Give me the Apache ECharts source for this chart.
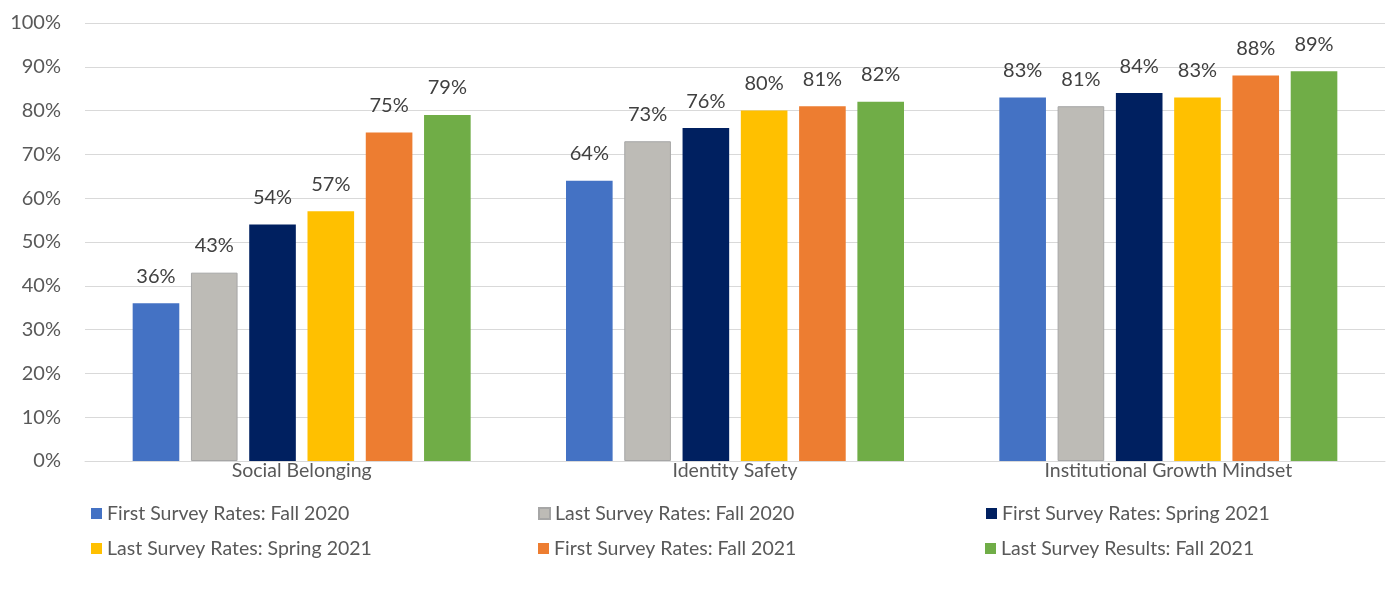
<!DOCTYPE html>
<html>
<head>
<meta charset="utf-8">
<script src="https://cdn.jsdelivr.net/npm/echarts@6/dist/echarts.min.js"></script>
<style>html,body{margin:0;padding:0;background:#fff}#c{width:1392px;height:594px}</style>
</head>
<body>
<div id="c"></div>
<script>
const categories = ['Social Belonging', 'Identity Safety', 'Institutional Growth Mindset'];
const seriesNames = [
  'First Survey Rates: Fall 2020',
  'Last Survey Rates: Fall 2020',
  'First Survey Rates: Spring 2021',
  'Last Survey Rates: Spring 2021',
  'First Survey Rates: Fall 2021',
  'Last Survey Results: Fall 2021'
];
const firstFall2020 = [36, 64, 83];
const lastFall2020 = [43, 73, 81];
const firstSpring2021 = [54, 76, 84];
const lastSpring2021 = [57, 80, 83];
const firstFall2021 = [75, 81, 88];
const lastFall2021 = [79, 82, 89];
const seriesValues = [firstFall2020, lastFall2020, firstSpring2021, lastSpring2021, firstFall2021, lastFall2021];
const colors = ['#4472C4', '#BDBBB6', '#002060', '#FFC000', '#ED7D31', '#70AD47'];
const borders = ['#4472C4', '#A6A6A6', '#002060', '#FFC000', '#ED7D31', '#70AD47'];

const FONT = 'Lato, "Open Sans", sans-serif';
const chart = echarts.init(document.getElementById('c'), null, {renderer: 'canvas'});
chart.setOption({
  animation: false,
  grid: {left: 85, right: 7, top: 23, bottom: 133, containLabel: false},
  legend: {
    left: 91, top: 501, width: 1360, padding: 0,
    itemWidth: 11, itemHeight: 11, itemGap: 10,
    icon: 'rect',
    textStyle: {fontFamily: FONT, fontSize: 19.5, color: '#595959', width: 421, lineHeight: 25},
    data: seriesNames
  },
  xAxis: {
    type: 'category', data: categories,
    axisLine: {lineStyle: {color: '#D9D9D9', width: 1}},
    axisTick: {show: false},
    axisLabel: {fontFamily: FONT, fontSize: 19.5, color: '#595959', margin: 0}
  },
  yAxis: {
    type: 'value', min: 0, max: 100, interval: 10,
    axisLabel: {fontFamily: FONT, fontSize: 20, color: '#595959', margin: 24, formatter: '{value}%'},
    splitLine: {lineStyle: {color: '#D9D9D9', width: 1}},
    axisLine: {show: false}, axisTick: {show: false}
  },
  series: seriesNames.map((n, i) => ({
    name: n, type: 'bar', data: seriesValues[i],
    barGap: '25%', barCategoryGap: '22%',
    itemStyle: {color: colors[i], borderColor: borders[i], borderWidth: i === 1 ? 1 : 0},
    label: {show: true, position: 'top', distance: 17, formatter: '{c}%', fontFamily: FONT, fontSize: 20, color: '#404040'}
  }))
});
</script>
</body>
</html>
